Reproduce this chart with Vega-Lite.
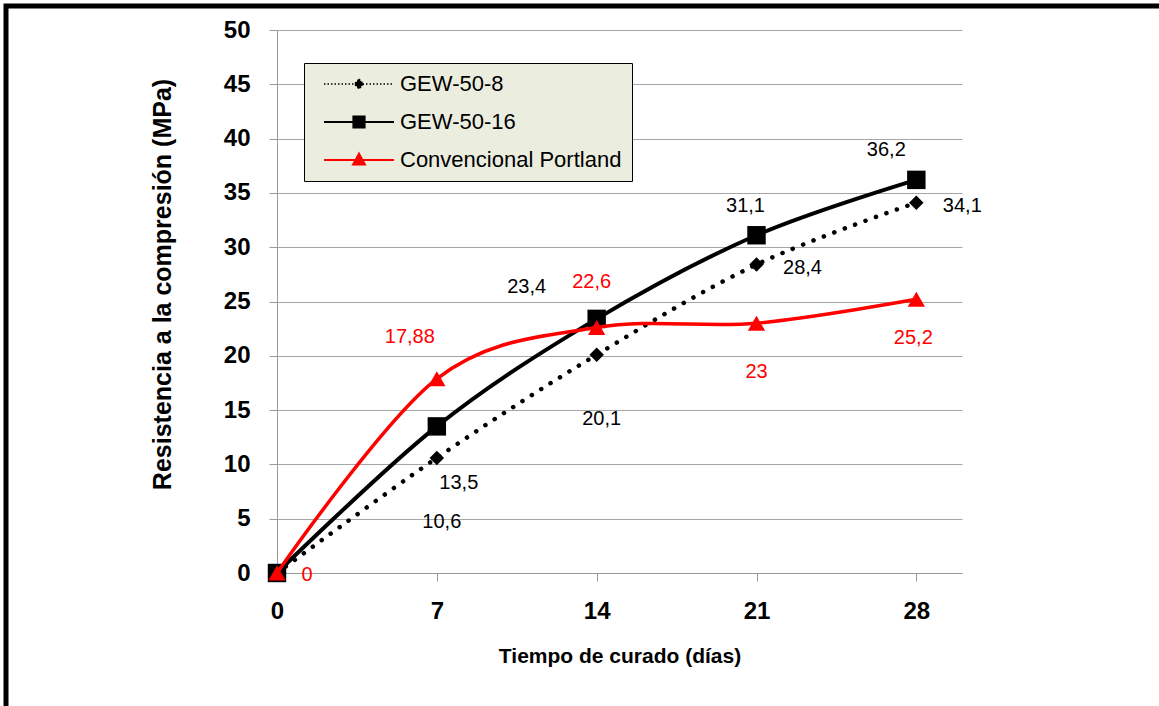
{
  "$schema": "https://vega.github.io/schema/vega-lite/v6.json",
  "width": 1163,
  "height": 710,
  "autosize": {"type": "none"},
  "padding": {"left": 6, "top": 6, "right": -10, "bottom": -10},
  "background": "#ffffff",
  "config": {
    "font": "Liberation Sans",
    "view": {"stroke": "#000000", "strokeWidth": 5},
    "locale": {"number": {"decimal": ",", "thousands": ".", "grouping": [3], "currency": ["", " €"]}},
    "axis": {
      "domainColor": "#999999",
      "tickColor": "#999999",
      "gridColor": "#a6a6a6",
      "gridWidth": 1,
      "labelColor": "#000000",
      "labelFont": "Liberation Sans",
      "labelFontWeight": "bold",
      "labelFontSize": 24,
      "titleFont": "Liberation Sans",
      "titleFontWeight": "bold",
      "titleColor": "#000000",
      "tickSize": 8
    }
  },
  "data": {
    "values": [
      {"serie": "GEW-50-8", "dias": 0, "mpa": 0},
      {"serie": "GEW-50-8", "dias": 7, "mpa": 10.6},
      {"serie": "GEW-50-8", "dias": 14, "mpa": 20.1},
      {"serie": "GEW-50-8", "dias": 21, "mpa": 28.4},
      {"serie": "GEW-50-8", "dias": 28, "mpa": 34.1},
      {"serie": "GEW-50-16", "dias": 0, "mpa": 0},
      {"serie": "GEW-50-16", "dias": 7, "mpa": 13.5},
      {"serie": "GEW-50-16", "dias": 14, "mpa": 23.4},
      {"serie": "GEW-50-16", "dias": 21, "mpa": 31.1},
      {"serie": "GEW-50-16", "dias": 28, "mpa": 36.2},
      {"serie": "Convencional Portland", "dias": 0, "mpa": 0},
      {"serie": "Convencional Portland", "dias": 7, "mpa": 17.88},
      {"serie": "Convencional Portland", "dias": 14, "mpa": 22.6},
      {"serie": "Convencional Portland", "dias": 21, "mpa": 23},
      {"serie": "Convencional Portland", "dias": 28, "mpa": 25.2}
    ]
  },
  "encoding": {
    "x": {
      "field": "dias",
      "type": "quantitative",
      "scale": {"domain": [0, 30], "range": [271, 956], "nice": false, "zero": false},
      "axis": {
        "values": [0, 7, 14, 21, 28],
        "offset": -143,
        "grid": false,
        "labelFlush": false,
        "labelPadding": 18,
        "title": "Tiempo de curado (días)",
        "titleFontSize": 21,
        "titlePadding": 22
      }
    },
    "y": {
      "field": "mpa",
      "type": "quantitative",
      "scale": {"domain": [0, 50], "range": [567, 24], "nice": false, "zero": false},
      "axis": {
        "values": [0, 5, 10, 15, 20, 25, 30, 35, 40, 45, 50],
        "offset": -271,
        "grid": true,
        "labelPadding": 19,
        "title": "Resistencia a la compresión (MPa)",
        "titleFontSize": 25,
        "titleX": -115,
        "titleY": 278,
        "titleBaseline": "middle"
      }
    },
    "color": {
      "field": "serie",
      "type": "nominal",
      "scale": {
        "domain": ["GEW-50-8", "GEW-50-16", "Convencional Portland"],
        "range": ["#000000", "#000000", "#ff0000"]
      },
      "legend": {
        "title": null,
        "orient": "none",
        "legendX": 298,
        "legendY": 57,
        "fillColor": "#ebeedf",
        "strokeColor": "#000000",
        "padding": 10,
        "labelFont": "Liberation Sans",
        "labelFontSize": 22,
        "labelColor": "#000000",
        "labelLimit": 400,
        "labelOffset": 30,
        "symbolOffset": 34,
        "rowPadding": 16,
        "encode": {
          "symbols": {
            "update": {
              "shape": {"signal": "datum.value === 'GEW-50-8' ? 'M-1,0H1M0,-0.14L0.13,0L0,0.14L-0.13,0Z' : datum.value === 'GEW-50-16' ? 'M-1,0H1M-0.16,-0.16H0.16V0.16H-0.16Z' : 'M-1,0H1M0,-0.18L0.17,0.13H-0.17Z'"},
              "size": {"value": 4900},
              "fill": {"signal": "datum.value === 'Convencional Portland' ? '#ff0000' : '#000000'"},
              "stroke": {"signal": "datum.value === 'Convencional Portland' ? '#ff0000' : datum.value === 'GEW-50-8' ? '#333333' : '#000000'"},
              "strokeWidth": {"signal": "datum.value === 'GEW-50-8' ? 1.5 : 2"},
              "strokeDash": {"signal": "datum.value === 'GEW-50-8' ? [1.5, 2] : [1, 0]"},
              "opacity": {"value": 1}
            }
          }
        }
      }
    }
  },
  "layer": [
    {
      "transform": [{"filter": "datum.serie === 'GEW-50-8'"}],
      "mark": {"type": "line", "interpolate": "cardinal", "tension": 0, "strokeWidth": 4.5, "strokeDash": [0.1, 11], "strokeCap": "round"}
    },
    {
      "transform": [{"filter": "datum.serie === 'GEW-50-8'"}],
      "mark": {"type": "point", "shape": "diamond", "filled": true, "size": 210, "opacity": 1}
    },
    {
      "transform": [{"filter": "datum.serie === 'GEW-50-16'"}],
      "mark": {"type": "line", "interpolate": "cardinal", "tension": 0, "strokeWidth": 4}
    },
    {
      "transform": [{"filter": "datum.serie === 'GEW-50-16'"}],
      "mark": {"type": "point", "shape": "square", "filled": true, "size": 340, "opacity": 1}
    },
    {
      "transform": [{"filter": "datum.serie === 'Convencional Portland'"}],
      "mark": {"type": "line", "interpolate": "cardinal", "tension": 0, "strokeWidth": 3.5}
    },
    {
      "transform": [{"filter": "datum.serie === 'Convencional Portland'"}],
      "mark": {"type": "point", "shape": "triangle-up", "filled": true, "size": 300, "opacity": 1}
    },
    {
      "transform": [{"filter": "datum.serie === 'GEW-50-8' && (datum.dias === 7 || datum.dias === 14)"}],
      "mark": {"type": "text", "fontSize": 20, "dx": 5, "dy": 64},
      "encoding": {"text": {"field": "mpa", "type": "quantitative", "format": ".2~f"}}
    },
    {
      "transform": [{"filter": "datum.serie === 'GEW-50-8' && (datum.dias === 21 || datum.dias === 28)"}],
      "mark": {"type": "text", "fontSize": 20, "dx": 46, "dy": 3},
      "encoding": {"text": {"field": "mpa", "type": "quantitative", "format": ".2~f"}}
    },
    {
      "transform": [{"filter": "datum.serie === 'GEW-50-16' && datum.dias === 7"}],
      "mark": {"type": "text", "fontSize": 20, "dx": 22, "dy": 57},
      "encoding": {"text": {"field": "mpa", "type": "quantitative", "format": ".2~f"}}
    },
    {
      "transform": [{"filter": "datum.serie === 'GEW-50-16' && datum.dias === 14"}],
      "mark": {"type": "text", "fontSize": 20, "dx": -70, "dy": -32},
      "encoding": {"text": {"field": "mpa", "type": "quantitative", "format": ".2~f"}}
    },
    {
      "transform": [{"filter": "datum.serie === 'GEW-50-16' && datum.dias === 21"}],
      "mark": {"type": "text", "fontSize": 20, "dx": -11, "dy": -29},
      "encoding": {"text": {"field": "mpa", "type": "quantitative", "format": ".2~f"}}
    },
    {
      "transform": [{"filter": "datum.serie === 'GEW-50-16' && datum.dias === 28"}],
      "mark": {"type": "text", "fontSize": 20, "dx": -30, "dy": -30},
      "encoding": {"text": {"field": "mpa", "type": "quantitative", "format": ".2~f"}}
    },
    {
      "transform": [{"filter": "datum.serie === 'Convencional Portland' && datum.dias === 0"}],
      "mark": {"type": "text", "fontSize": 20, "dx": 30, "dy": 2},
      "encoding": {"text": {"field": "mpa", "type": "quantitative", "format": ".2~f"}}
    },
    {
      "transform": [{"filter": "datum.serie === 'Convencional Portland' && datum.dias === 7"}],
      "mark": {"type": "text", "fontSize": 20, "dx": -27, "dy": -42},
      "encoding": {"text": {"field": "mpa", "type": "quantitative", "format": ".2~f"}}
    },
    {
      "transform": [{"filter": "datum.serie === 'Convencional Portland' && datum.dias === 14"}],
      "mark": {"type": "text", "fontSize": 20, "dx": -5, "dy": -46},
      "encoding": {"text": {"field": "mpa", "type": "quantitative", "format": ".2~f"}}
    },
    {
      "transform": [{"filter": "datum.serie === 'Convencional Portland' && datum.dias === 21"}],
      "mark": {"type": "text", "fontSize": 20, "dx": 0, "dy": 49},
      "encoding": {"text": {"field": "mpa", "type": "quantitative", "format": ".2~f"}}
    },
    {
      "transform": [{"filter": "datum.serie === 'Convencional Portland' && datum.dias === 28"}],
      "mark": {"type": "text", "fontSize": 20, "dx": -3, "dy": 39},
      "encoding": {"text": {"field": "mpa", "type": "quantitative", "format": ".2~f"}}
    }
  ]
}
